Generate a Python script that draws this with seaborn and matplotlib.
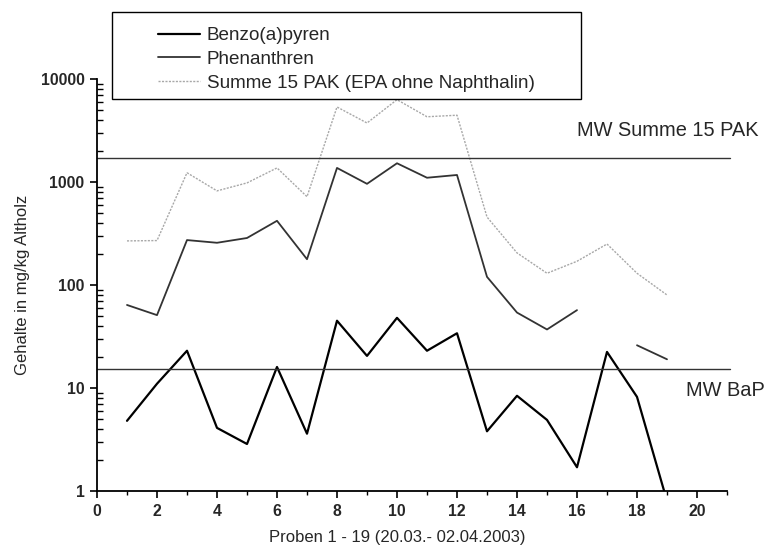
import numpy as np
import pandas as pd
import matplotlib
matplotlib.use("Agg")
import matplotlib.pyplot as plt
import matplotlib.ticker as mticker
from matplotlib.patches import Rectangle
from matplotlib.lines import Line2D
import seaborn as sns

# ---- data ----
proben = list(range(1, 20))
bap = [4.8, 11, 23, 4.1, 2.86, 16, 3.6, 45, 20.5, 48, 23, 34, 3.8, 8.4, 4.9, 1.7, 22.4, 8.2, 0.8]
phen = [64, 51, 273, 257, 286, 420, 178, 1370, 960, 1520, 1100, 1170, 120, 54, 37, 57, np.nan, 26, 19]
summe = [268, 270, 1230, 820, 980, 1370, 720, 5350, 3740, 6300, 4300, 4450, 457, 205, 130, 170, 250, 130, 80]
mw_summe = 1700
mw_bap = 15.2
labels = ["Benzo(a)pyren", "Phenanthren", "Summe 15 PAK (EPA ohne Naphthalin)"]
x_ticks = list(range(0, 21, 2))
y_ticks = [1, 10, 100, 1000, 10000]

sns.set_style("white")
plt.rcParams["font.family"] = ["Liberation Sans", "DejaVu Sans"]

fig = plt.figure(figsize=(7.66, 5.57), dpi=100)
ax = fig.add_axes([97 / 766, 1 - 491 / 557, (727 - 97) / 766, (491 - 79) / 557])

def segments(vals):
    seg, out, prev_nan = 0, [], False
    for v in vals:
        if np.isnan(v):
            prev_nan = True
            out.append(-1)
        else:
            if prev_nan:
                seg += 1
            prev_nan = False
            out.append(seg)
    return out

df_bap = pd.DataFrame({"x": proben, "y": bap, "u": 0})
df_phen = pd.DataFrame({"x": proben, "y": phen, "u": segments(phen)}).dropna()
df_sum = pd.DataFrame({"x": proben, "y": summe, "u": 0})

styles = [dict(color="black", lw=1.6, ls="-"),
          dict(color="#333333", lw=1.3, ls="-"),
          dict(color="#a8a8a8", lw=1.0, ls=(0, (1.5, 1)))]

for d, st in zip([df_bap, df_phen, df_sum], styles):
    sns.lineplot(data=d, x="x", y="y", units="u", estimator=None, ax=ax, legend=False, **st)

ax.plot([0, 21.1], [mw_summe, mw_summe], color="#333333", lw=1.0, clip_on=False)
ax.plot([0, 21.1], [mw_bap, mw_bap], color="#333333", lw=1.0, clip_on=False)

ax.set_yscale("log")
ax.set_xlim(0, 21)
ax.set_ylim(1, 10000)
ax.set_xticks(x_ticks)
ax.xaxis.set_minor_locator(mticker.MultipleLocator(1))
ax.set_yticks(y_ticks)
ax.yaxis.set_major_formatter(mticker.FuncFormatter(lambda v, p: f"{int(round(v))}"))
minor_y = [k * 10 ** d for d in range(0, 4) for k in range(2, 10)]
ax.yaxis.set_minor_locator(mticker.FixedLocator(minor_y))
ax.yaxis.set_minor_formatter(mticker.NullFormatter())

for s in ["top", "right"]:
    ax.spines[s].set_visible(False)
for s in ["left", "bottom"]:
    ax.spines[s].set_color("black")
    ax.spines[s].set_linewidth(1.3)

ax.tick_params(axis="both", which="major", direction="out", length=5, width=1.2,
               labelsize=11.3, color="black", pad=4, left=True, bottom=True)
ax.tick_params(axis="x", which="minor", direction="out", length=3, width=1.0, color="black", bottom=True)
ax.tick_params(axis="y", which="minor", direction="in", length=4, width=1.0, color="black", left=True)
for t in ax.get_xticklabels() + ax.get_yticklabels():
    t.set_fontweight("bold")

ax.set_xlabel("Proben 1 - 19 (20.03.- 02.04.2003)", fontsize=12, labelpad=10)
ax.xaxis.set_label_coords(10 / 21, -0.095)
ax.set_ylabel("Gehalte in mg/kg Altholz", fontsize=12, labelpad=8)

fig.text(577 / 766, 1 - 131 / 557, "MW Summe 15 PAK", fontsize=14.4, va="center", ha="left")
fig.text(686 / 766, 1 - 390 / 557, "MW BaP", fontsize=14.4, va="center", ha="left")

# legend box
fig.patches.append(Rectangle((112 / 766, 1 - 99 / 557), (581 - 112) / 766, (99 - 12) / 557,
                             transform=fig.transFigure, fill=True, facecolor="white",
                             edgecolor="black", lw=1.0, zorder=5))
handles = [Line2D([], [], **st) for st in styles]
leg = fig.legend(handles, labels, loc="upper left", bbox_to_anchor=(158 / 766, 1 - 27 / 557),
                 frameon=False, fontsize=13.6, handlelength=2.2, handletextpad=0.37,
                 labelspacing=0.34, borderpad=0, borderaxespad=0)
leg.set_zorder(6)

fig.savefig("out.png", dpi=100)
